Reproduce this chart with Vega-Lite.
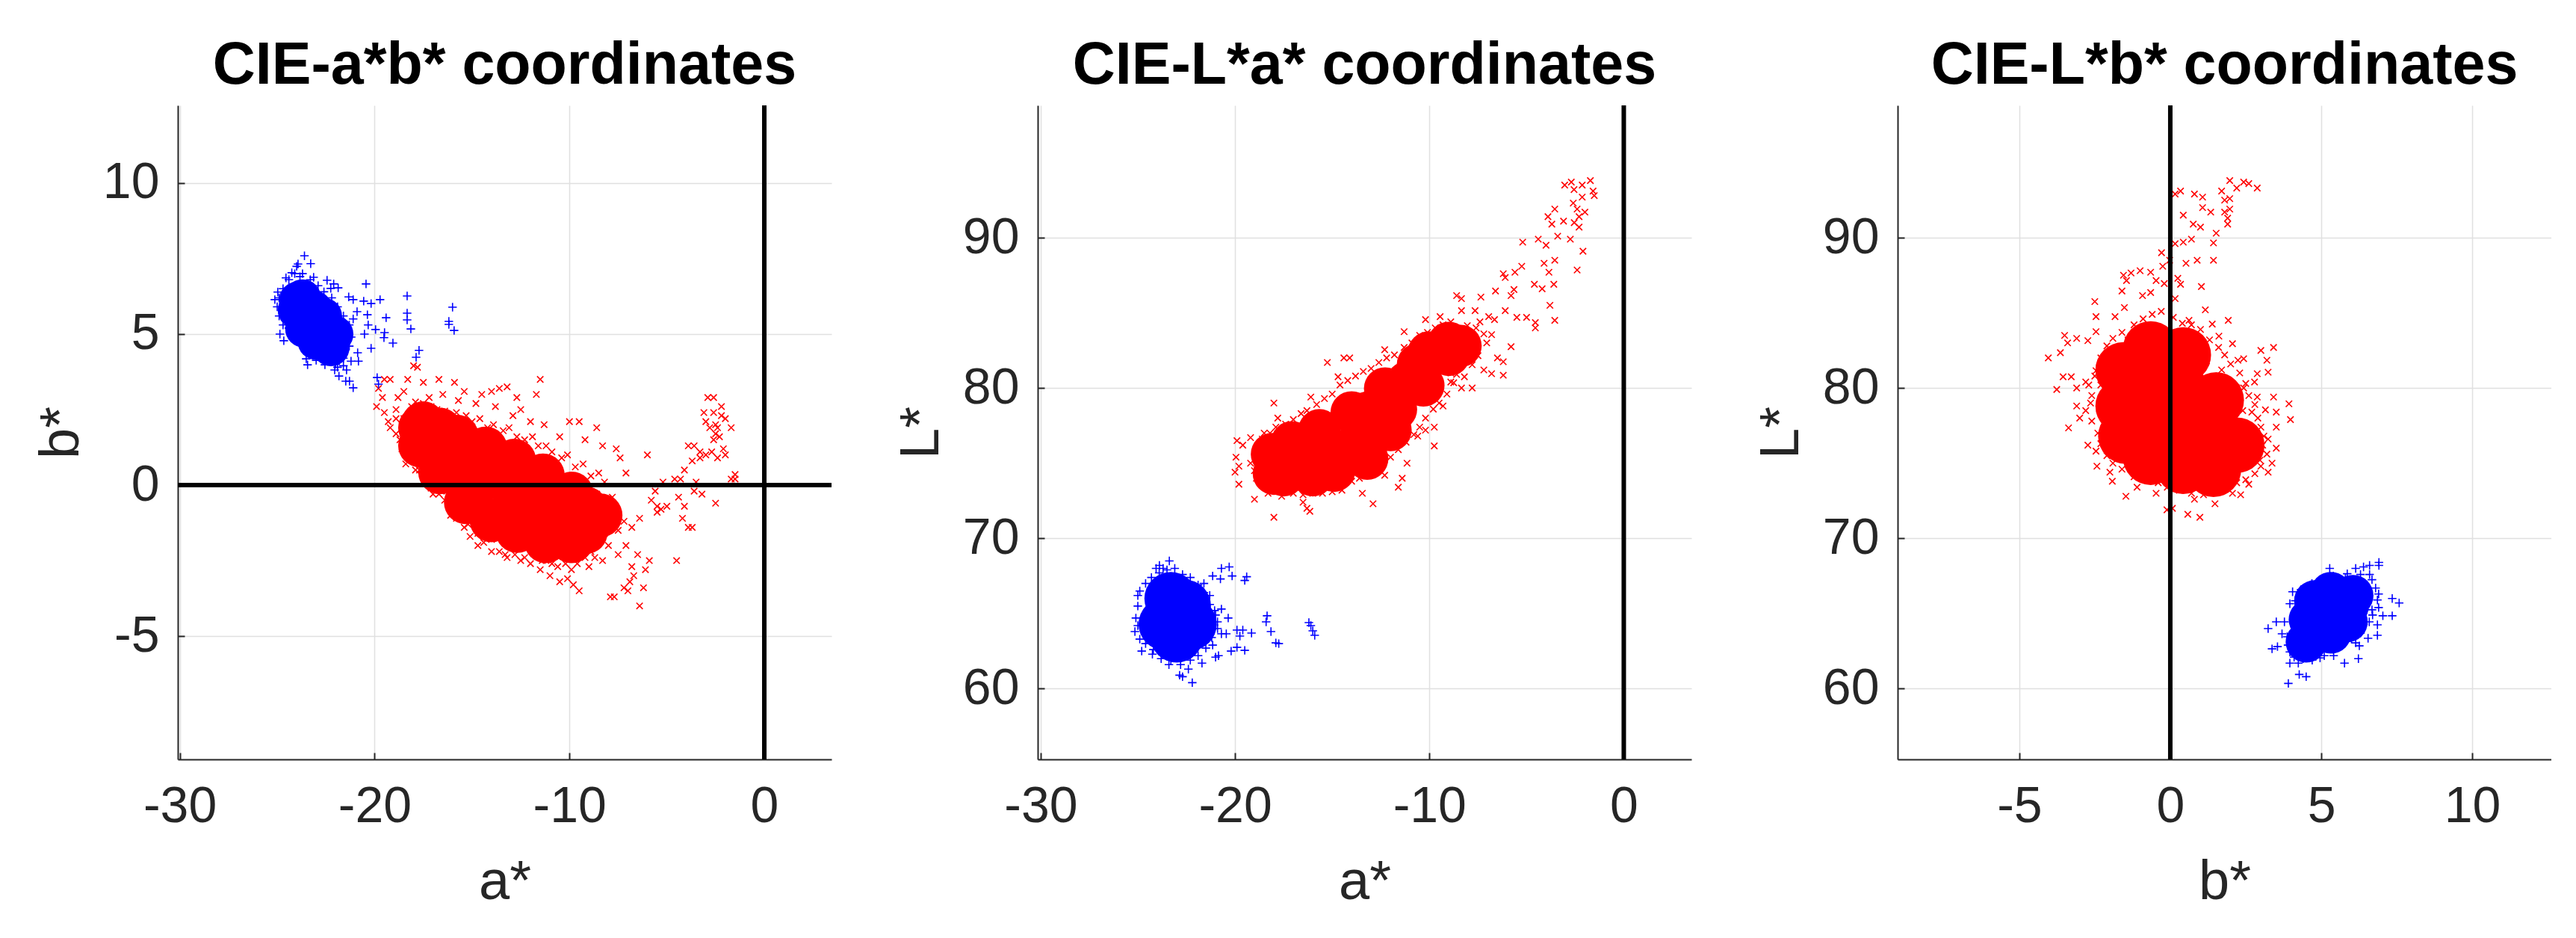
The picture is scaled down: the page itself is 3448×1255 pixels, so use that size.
{"$schema":"https://vega.github.io/schema/vega-lite/v6.json","background":"white","padding":{"left":45,"top":49,"right":0,"bottom":10},"bounds":"flush","spacing":276,
"config":{"view":{"stroke":null},"font":"Liberation Sans","axis":{"labelFont":"Liberation Sans","titleFont":"Liberation Sans","labelFontSize":68,"titleFontSize":74,"titleFontWeight":"normal","labelColor":"#262626","titleColor":"#262626","domainColor":"#262626","domainWidth":2,"tickColor":"#262626","tickWidth":2,"tickSize":-9,"gridColor":"#e0e0e0","gridWidth":1.5,"grid":true,"labelOverlap":false,"labelBound":false,"labelFlush":false,"labelExpr":"replace(datum.label,'−','-')"},"axisX":{"labelPadding":38,"titlePadding":31},"axisY":{"labelPadding":34,"titlePadding":17},"title":{"font":"Liberation Sans","fontSize":79,"fontWeight":"bold","color":"#000000","anchor":"middle","offset":9}},
"datasets":{
"p1rc":[{"x":-17.67,"y":1.9},{"x":-16.64,"y":1.84},{"x":-15.76,"y":1.6},{"x":-14.3,"y":1.21},{"x":-12.83,"y":0.81},{"x":-11.36,"y":0.32},{"x":-9.89,"y":-0.28},{"x":-9.16,"y":-0.77},{"x":-17.67,"y":1.31},{"x":-16.64,"y":0.42},{"x":-15.32,"y":-0.57},{"x":-14,"y":-1.17},{"x":-12.68,"y":-1.52},{"x":-11.21,"y":-1.86},{"x":-9.89,"y":-1.86},{"x":-9.16,"y":-1.56},{"x":-15.76,"y":0.61},{"x":-14.3,"y":0.22},{"x":-12.83,"y":-0.28},{"x":-11.36,"y":-0.77},{"x":-10.19,"y":-1.17},{"x":-16.94,"y":1.11},{"x":-8.4,"y":-1},{"x":-17.5,"y":2.05}],
"p1bc":[{"x":-23.96,"y":6.12},{"x":-24.02,"y":5.79},{"x":-23.64,"y":5.17},{"x":-23,"y":4.76},{"x":-22.24,"y":4.55},{"x":-22.04,"y":5.0},{"x":-22.62,"y":5.59},{"x":-23.13,"y":5.83},{"x":-23.26,"y":5.34},{"x":-23.7,"y":6.2}],
"p1b":[{"x":-23.6,"y":7.59},{"x":-23.93,"y":7.32},{"x":-23.28,"y":7.33},{"x":-24.0,"y":7.24},{"x":-24.25,"y":7.03},{"x":-24.55,"y":6.86},{"x":-23.83,"y":6.9},{"x":-23.13,"y":6.88},{"x":-22.44,"y":6.78},{"x":-22.1,"y":6.66},{"x":-22.25,"y":6.51},{"x":-21.87,"y":6.53},{"x":-20.44,"y":6.66},{"x":-24.97,"y":6.39},{"x":-25.12,"y":6.14},{"x":-21.33,"y":6.23},{"x":-21.1,"y":6.14},{"x":-20.56,"y":6.09},{"x":-19.72,"y":6.14},{"x":-20.18,"y":6.01},{"x":-18.33,"y":6.26},{"x":-16.0,"y":5.89},{"x":-18.33,"y":5.69},{"x":-18.33,"y":5.47},{"x":-19.41,"y":5.54},{"x":-20.37,"y":5.64},{"x":-20.9,"y":5.74},{"x":-21.1,"y":5.5},{"x":-16.19,"y":5.42},{"x":-16.19,"y":5.32},{"x":-15.92,"y":5.12},{"x":-18.14,"y":5.17},{"x":-19.95,"y":5.15},{"x":-19.49,"y":5.05},{"x":-19.52,"y":4.88},{"x":-20.52,"y":5.0},{"x":-20.33,"y":5.3},{"x":-19.06,"y":4.7},{"x":-20.18,"y":4.53},{"x":-17.72,"y":4.46},{"x":-17.87,"y":4.23},{"x":-20.83,"y":4.1},{"x":-20.87,"y":4.38},{"x":-21.44,"y":3.81},{"x":-21.83,"y":3.61},{"x":-21.48,"y":3.44},{"x":-21.29,"y":3.44},{"x":-21.1,"y":3.22},{"x":-19.87,"y":3.56},{"x":-19.8,"y":3.34},{"x":-23.44,"y":3.98},{"x":-24.66,"y":4.78},{"x":-24.86,"y":5.0},{"x":-23.0,"y":4.13},{"x":-22.55,"y":3.98},{"x":-22.05,"y":3.81},{"x":-23.51,"y":4.18},{"x":-21.21,"y":4.1},{"x":-25,"y":5.9},{"x":-24.9,"y":5.6},{"x":-24.7,"y":5.3},{"x":-24.9,"y":6.2},{"x":-24.7,"y":6.5},{"x":-24.4,"y":6.8},{"x":-24.1,"y":7},{"x":-23.7,"y":7},{"x":-23.3,"y":6.8},{"x":-22.9,"y":6.6},{"x":-22.6,"y":6.4},{"x":-22.2,"y":6.2},{"x":-21.9,"y":5.9},{"x":-21.6,"y":5.6},{"x":-21.3,"y":5.3},{"x":-21.2,"y":4.9},{"x":-21.3,"y":4.6},{"x":-21.6,"y":4.2},{"x":-22,"y":4},{"x":-22.4,"y":4.1},{"x":-22.8,"y":4.3},{"x":-23.2,"y":4.4},{"x":-23.6,"y":4.6},{"x":-24,"y":4.9},{"x":-24.4,"y":5.2},{"x":-24.6,"y":5.6},{"x":-21.6,"y":3.95},{"x":-21.9,"y":3.9},{"x":-21.7,"y":4.5}],
"p1r":[{"x":-19.8,"y":3.2},{"x":-19.5,"y":3.5},{"x":-19.2,"y":3.5},{"x":-18,"y":3.95},{"x":-17.8,"y":3.9},{"x":-18.3,"y":3.5},{"x":-17.5,"y":3.4},{"x":-16.7,"y":3.5},{"x":-15.9,"y":3.4},{"x":-15.4,"y":3.1},{"x":-14.5,"y":3},{"x":-14,"y":3.1},{"x":-13.6,"y":3.2},{"x":-13.2,"y":3.25},{"x":-11.5,"y":3.5},{"x":-11.7,"y":3},{"x":-12.7,"y":2.9},{"x":-12.5,"y":2.5},{"x":-19.6,"y":2.9},{"x":-19.9,"y":2.6},{"x":-19.5,"y":2.4},{"x":-19.3,"y":2.1},{"x":-19.2,"y":1.9},{"x":-18.9,"y":2.5},{"x":-18.8,"y":2.9},{"x":-18.5,"y":3.1},{"x":-17.2,"y":2.9},{"x":-16.5,"y":3.0},{"x":-15.7,"y":2.8},{"x":-14.8,"y":2.7},{"x":-13.8,"y":2.6},{"x":-12.9,"y":2.3},{"x":-12.0,"y":2.1},{"x":-11.3,"y":2.0},{"x":-10.5,"y":1.6},{"x":-10,"y":2.1},{"x":-9.5,"y":2.1},{"x":-8.6,"y":1.9},{"x":-9.2,"y":1.5},{"x":-8.3,"y":1.3},{"x":-7.6,"y":1.2},{"x":-7.4,"y":0.9},{"x":-7.1,"y":0.4},{"x":-6.0,"y":1.0},{"x":-18.6,"y":1.2},{"x":-18.2,"y":0.9},{"x":-17.9,"y":0.5},{"x":-17.2,"y":0.3},{"x":-17,"y":-0.3},{"x":-16.3,"y":-0.2},{"x":-16,"y":-0.6},{"x":-15.6,"y":-1},{"x":-15.2,"y":-1.3},{"x":-14.7,"y":-1.6},{"x":-14,"y":-1.8},{"x":-13.3,"y":-2.3},{"x":-12.5,"y":-2.5},{"x":-12,"y":-2.6},{"x":-11.4,"y":-2.5},{"x":-11,"y":-3},{"x":-10.5,"y":-3.2},{"x":-10.1,"y":-3.1},{"x":-9.8,"y":-3.3},{"x":-9.5,"y":-3.5},{"x":-10.5,"y":-2.3},{"x":-9.5,"y":-2.2},{"x":-9,"y":-2.7},{"x":-8.7,"y":-2.4},{"x":-8.3,"y":-2.5},{"x":-7.9,"y":-3.7},{"x":-7.7,"y":-3.7},{"x":-7.2,"y":-3.4},{"x":-7,"y":-3.5},{"x":-6.9,"y":-3.2},{"x":-6.7,"y":-3},{"x":-6.4,"y":-4},{"x":-6.2,"y":-3.4},{"x":-6.1,"y":-2.8},{"x":-6.5,"y":-2.3},{"x":-6.8,"y":-2.7},{"x":-5.9,"y":-2.5},{"x":-8.0,"y":-2},{"x":-7.5,"y":-1.5},{"x":-7.2,"y":-1.2},{"x":-6.8,"y":-1.4},{"x":-6.4,"y":-1.1},{"x":-8.1,"y":-1},{"x":-7.8,"y":-0.4},{"x":-7.5,"y":-2.3},{"x":-7.1,"y":-2},{"x":-5.8,"y":-0.5},{"x":-5.5,"y":-0.7},{"x":-5.3,"y":-0.8},{"x":-5.0,"y":-0.7},{"x":-5.6,"y":-0.2},{"x":-5.2,"y":0.1},{"x":-4.6,"y":0.2},{"x":-4.3,"y":0.2},{"x":-4.4,"y":-0.4},{"x":-4.1,"y":-0.7},{"x":-4.2,"y":-1.1},{"x":-3.9,"y":-1.4},{"x":-3.7,"y":-1.4},{"x":-4.5,"y":-2.5},{"x":-3.6,"y":-0.2},{"x":-3.5,"y":0.1},{"x":-4.1,"y":0.5},{"x":-3.7,"y":0.8},{"x":-3.3,"y":0.9},{"x":-3.9,"y":1.3},{"x":-3.6,"y":1.3},{"x":-3.3,"y":1.1},{"x":-3.0,"y":1.0},{"x":-2.7,"y":1.1},{"x":-2.6,"y":1.5},{"x":-2.4,"y":1.9},{"x":-2.5,"y":1.7},{"x":-2.3,"y":1.6},{"x":-2.1,"y":1.2},{"x":-2,"y":1.0},{"x":-2.4,"y":0.9},{"x":-1.7,"y":0.2},{"x":-1.5,"y":0.2},{"x":-1.5,"y":0.35},{"x":-2.5,"y":-0.6},{"x":-3.1,"y":2.4},{"x":-2.9,"y":2.9},{"x":-2.6,"y":2.9},{"x":-2.6,"y":2.4},{"x":-2.2,"y":2.3},{"x":-2,"y":2.2},{"x":-1.7,"y":1.9},{"x":-2.2,"y":2.6},{"x":-3,"y":2.1},{"x":-2.8,"y":1.9},{"x":-2.5,"y":2.0},{"x":-5.5,"y":-0.9},{"x":-3.2,"y":-0.3},{"x":-18.5,"y":2.2},{"x":-18.1,"y":2.6},{"x":-17.9,"y":2.75},{"x":-17.5,"y":2.7},{"x":-17.1,"y":2.6},{"x":-16.8,"y":2.5},{"x":-16.4,"y":2.45},{"x":-16.1,"y":2.2},{"x":-15.8,"y":2.4},{"x":-15.3,"y":2.3},{"x":-15,"y":2.1},{"x":-14.6,"y":2.2},{"x":-14.2,"y":1.9},{"x":-13.9,"y":2},{"x":-13.4,"y":1.8},{"x":-13.1,"y":1.9},{"x":-12.7,"y":1.6},{"x":-12.3,"y":1.5},{"x":-11.9,"y":1.6},{"x":-11.6,"y":1.3},{"x":-11.2,"y":1.3},{"x":-10.9,"y":1.1},{"x":-10.4,"y":0.9},{"x":-10.1,"y":1.0},{"x":-9.7,"y":0.6},{"x":-9.3,"y":0.7},{"x":-8.9,"y":0.3},{"x":-8.5,"y":0.4},{"x":-8.2,"y":0.1},{"x":-8.6,"y":-0.3},{"x":-8.0,"y":-0.5},{"x":-18.9,"y":1.7},{"x":-18.7,"y":1.5},{"x":-18.6,"y":2.0},{"x":-18.9,"y":2.2},{"x":-18.4,"y":0.7},{"x":-18.3,"y":1.4},{"x":-18,"y":1.1},{"x":-17.7,"y":0.5},{"x":-17.4,"y":0.1},{"x":-17.1,"y":-0.1},{"x":-16.7,"y":-0.3},{"x":-16.4,"y":-0.5},{"x":-16.1,"y":-1},{"x":-15.8,"y":-1.1},{"x":-15.4,"y":-1.4},{"x":-15.1,"y":-1.7},{"x":-14.7,"y":-2},{"x":-14.4,"y":-1.9},{"x":-14,"y":-2.2},{"x":-13.6,"y":-2.2},{"x":-13.2,"y":-2.4},{"x":-12.8,"y":-2.3},{"x":-12.3,"y":-2.4},{"x":-11.9,"y":-2.2},{"x":-11.5,"y":-2.8},{"x":-11.2,"y":-2.5},{"x":-10.9,"y":-2.6},{"x":-10.6,"y":-2.7},{"x":-10.2,"y":-2.6},{"x":-9.9,"y":-2.8},{"x":-9.6,"y":-2.6},{"x":-9.2,"y":-2.4},{"x":-8.9,"y":-2.2},{"x":-8.6,"y":-1.9},{"x":-8.2,"y":-1.6},{"x":-8.4,"y":-1.2},{"x":-8,"y":-1.4},{"x":-7.9,"y":-0.9},{"x":-7.6,"y":-0.9},{"x":-8.3,"y":-0.6}],
"p2rc":[{"x":-17.63,"y":75},{"x":-16.79,"y":74.6},{"x":-15.38,"y":74.6},{"x":-17.07,"y":76.39},{"x":-15.66,"y":77.19},{"x":-14,"y":78.38},{"x":-12.28,"y":79.97},{"x":-10.59,"y":81.56},{"x":-10.03,"y":82.36},{"x":-14.54,"y":75.79},{"x":-13.41,"y":76.99},{"x":-11.72,"y":78.58},{"x":-10.31,"y":80.17},{"x":-15.38,"y":75.99},{"x":-13.13,"y":78.38},{"x":-11.15,"y":80.37},{"x":-12,"y":77.2},{"x":-16,"y":74.2},{"x":-14.9,"y":74.5},{"x":-13.2,"y":75.3},{"x":-18,"y":74.3},{"x":-17.5,"y":74.2},{"x":-18.1,"y":75.6},{"x":-9,"y":82.2},{"x":-9,"y":83},{"x":-8.4,"y":82.8}],
"p2bc":[{"x":-23.3,"y":66},{"x":-23.6,"y":64.3},{"x":-22.6,"y":65.5},{"x":-23,"y":63.5},{"x":-22.3,"y":64.3},{"x":-23.1,"y":65}],
"p2b":[{"x":-23.38,"y":68.5},{"x":-23.89,"y":68.2},{"x":-24.06,"y":68},{"x":-23.7,"y":68},{"x":-25,"y":66.2},{"x":-25.15,"y":63.8},{"x":-25.1,"y":64.7},{"x":-24.8,"y":62.5},{"x":-24.25,"y":62.3},{"x":-22.7,"y":60.8},{"x":-22.2,"y":60.4},{"x":-22.85,"y":60.9},{"x":-23.4,"y":61.6},{"x":-21.7,"y":61.7},{"x":-21,"y":62.1},{"x":-20.85,"y":62.2},{"x":-20.2,"y":62.5},{"x":-19.9,"y":62.75},{"x":-19.5,"y":62.55},{"x":-20.45,"y":63.65},{"x":-19.9,"y":63.9},{"x":-19.6,"y":63.9},{"x":-19.15,"y":63.7},{"x":-19.75,"y":63.5},{"x":-21.15,"y":62.9},{"x":-20.35,"y":64.7},{"x":-20.7,"y":65.3},{"x":-21.05,"y":65.2},{"x":-21.3,"y":66.2},{"x":-21.6,"y":67},{"x":-21.15,"y":67.5},{"x":-20.7,"y":68},{"x":-20.3,"y":68.1},{"x":-20.75,"y":67.3},{"x":-20.15,"y":67.5},{"x":-19.5,"y":67.2},{"x":-19.4,"y":67.45},{"x":-18.4,"y":64.45},{"x":-18.35,"y":64.85},{"x":-18.15,"y":63.8},{"x":-17.9,"y":63.05},{"x":-17.75,"y":63},{"x":-16.2,"y":64.4},{"x":-16.1,"y":64.2},{"x":-15.9,"y":63.55},{"x":-16,"y":63.85},{"x":-22.4,"y":61.3},{"x":-20.9,"y":64.45},{"x":-20.7,"y":63.65},{"x":-25,"y":65.5},{"x":-24.9,"y":66.5},{"x":-24.6,"y":67},{"x":-24.3,"y":67.4},{"x":-23.9,"y":67.7},{"x":-23.5,"y":67.9},{"x":-23.1,"y":68},{"x":-22.7,"y":67.6},{"x":-22.3,"y":67.4},{"x":-21.9,"y":66.9},{"x":-21.6,"y":66.4},{"x":-21.3,"y":65.6},{"x":-21,"y":64.9},{"x":-20.9,"y":64},{"x":-21.2,"y":63.4},{"x":-21.5,"y":62.7},{"x":-21.9,"y":62.2},{"x":-22.3,"y":61.9},{"x":-22.8,"y":61.6},{"x":-23.3,"y":61.9},{"x":-23.8,"y":62},{"x":-24.2,"y":62.6},{"x":-24.6,"y":63},{"x":-24.9,"y":63.3},{"x":-25,"y":64.2}],
"p2r":[{"x":-3.04,"y":93.5},{"x":-2.7,"y":93.7},{"x":-2.56,"y":93.2},{"x":-2.14,"y":93.5},{"x":-1.72,"y":93.8},{"x":-1.58,"y":93.1},{"x":-1.52,"y":92.8},{"x":-2.14,"y":92.7},{"x":-2.6,"y":92.3},{"x":-2.4,"y":91.9},{"x":-2,"y":91.7},{"x":-2.3,"y":91.4},{"x":-3.55,"y":91.9},{"x":-3.9,"y":91.4},{"x":-3.7,"y":90.9},{"x":-3.1,"y":91.1},{"x":-2.55,"y":91},{"x":-2.3,"y":90.7},{"x":-3.4,"y":90.1},{"x":-2.75,"y":89.9},{"x":-4.4,"y":89.9},{"x":-5.2,"y":89.7},{"x":-2.1,"y":89.1},{"x":-2.4,"y":87.85},{"x":-4,"y":89.5},{"x":-4.1,"y":88.3},{"x":-3.55,"y":88.5},{"x":-3.85,"y":87.7},{"x":-3.6,"y":86.9},{"x":-4.2,"y":86.6},{"x":-4.6,"y":86.9},{"x":-3.8,"y":85.5},{"x":-3.55,"y":84.5},{"x":-4.55,"y":84.35},{"x":-4.55,"y":84},{"x":-5,"y":84.7},{"x":-5.5,"y":84.7},{"x":-6.1,"y":85.15},{"x":-5.8,"y":86.15},{"x":-6.2,"y":87.6},{"x":-5.6,"y":87.7},{"x":-5.25,"y":88.1},{"x":-6.1,"y":87.35},{"x":-5.65,"y":86.55},{"x":-6.6,"y":86.45},{"x":-5.8,"y":82.75},{"x":-6.2,"y":81.75},{"x":-6.2,"y":80.85},{"x":-6.8,"y":80.95},{"x":-6.5,"y":82},{"x":-7.35,"y":86.05},{"x":-8.6,"y":86.15},{"x":-8.35,"y":85.95},{"x":-9.45,"y":84.75},{"x":-10.2,"y":84.55},{"x":-11.3,"y":83.75},{"x":-12.3,"y":82.55},{"x":-14.4,"y":82},{"x":-14.1,"y":82},{"x":-15.25,"y":81.7},{"x":-14.7,"y":80.75},{"x":-16.1,"y":79.4},{"x":-18,"y":79},{"x":-17.8,"y":78},{"x":-18.5,"y":77},{"x":-19.2,"y":76.7},{"x":-19.9,"y":76.5},{"x":-19.6,"y":76.2},{"x":-19.95,"y":75.4},{"x":-19.8,"y":74.8},{"x":-20,"y":74.4},{"x":-19.8,"y":73.6},{"x":-19,"y":72.6},{"x":-18,"y":71.4},{"x":-16.3,"y":72},{"x":-16.15,"y":71.8},{"x":-16.5,"y":72.4},{"x":-17.6,"y":72.8},{"x":-18.3,"y":73},{"x":-12.9,"y":72.3},{"x":-13.45,"y":73},{"x":-14.5,"y":73.2},{"x":-11.6,"y":73.4},{"x":-11.4,"y":74},{"x":-12.3,"y":74.2},{"x":-9.75,"y":76.15},{"x":-9.75,"y":77.4},{"x":-10.2,"y":77.2},{"x":-11.15,"y":75},{"x":-10.6,"y":76.8},{"x":-9.3,"y":78.8},{"x":-8.35,"y":80},{"x":-7.8,"y":80},{"x":-7.2,"y":81.2},{"x":-7.8,"y":81.55},{"x":-6.8,"y":83.55},{"x":-6.65,"y":84.55},{"x":-6.95,"y":84.75},{"x":-7.65,"y":85.15},{"x":-8.35,"y":85.15},{"x":-7.05,"y":83},{"x":-7.5,"y":82.15},{"x":-8.2,"y":80.75},{"x":-8.75,"y":80.35},{"x":-8.6,"y":83.55},{"x":-8.05,"y":84.15},{"x":-8.2,"y":83.7},{"x":-7.6,"y":84},{"x":-7.9,"y":83},{"x":-7.2,"y":83.6},{"x":-7.4,"y":84.4},{"x":-8.6,"y":83},{"x":-8,"y":82.4},{"x":-8.8,"y":82.2},{"x":-18.9,"y":76},{"x":-18.6,"y":76.6},{"x":-18.2,"y":77},{"x":-17.9,"y":77.4},{"x":-17.4,"y":77.6},{"x":-17,"y":77.9},{"x":-16.6,"y":78.3},{"x":-16.3,"y":78.5},{"x":-15.8,"y":78.9},{"x":-15.4,"y":79.3},{"x":-15,"y":79.6},{"x":-14.6,"y":80.2},{"x":-14.2,"y":80.5},{"x":-13.8,"y":80.8},{"x":-13.4,"y":81.1},{"x":-13,"y":81.3},{"x":-12.6,"y":81.7},{"x":-12.2,"y":82},{"x":-11.8,"y":82.2},{"x":-11.3,"y":82.7},{"x":-10.9,"y":83},{"x":-10.5,"y":83.5},{"x":-10.1,"y":83.7},{"x":-9.7,"y":84},{"x":-9.3,"y":84.2},{"x":-8.9,"y":84.4},{"x":-18.9,"y":75.3},{"x":-19.2,"y":75},{"x":-19,"y":74.5},{"x":-18.9,"y":74},{"x":-18.5,"y":73.6},{"x":-18,"y":73.3},{"x":-17.5,"y":73.2},{"x":-17,"y":73},{"x":-16.5,"y":72.9},{"x":-16,"y":73},{"x":-15.5,"y":73},{"x":-15,"y":73.1},{"x":-14.4,"y":73.7},{"x":-14,"y":73.8},{"x":-13.6,"y":74},{"x":-13.2,"y":74.4},{"x":-12.8,"y":74.8},{"x":-12.4,"y":75},{"x":-12,"y":75.4},{"x":-11.6,"y":75.9},{"x":-11.2,"y":76.4},{"x":-10.8,"y":76.9},{"x":-10.5,"y":77.4},{"x":-10.2,"y":78},{"x":-9.8,"y":78.6},{"x":-9.5,"y":79},{"x":-9.1,"y":79.6},{"x":-8.9,"y":80.4},{"x":-8.6,"y":80.9},{"x":-8.9,"y":81},{"x":-8.4,"y":81.7},{"x":-8.9,"y":83},{"x":-9.1,"y":82.6},{"x":-9.2,"y":83.6},{"x":-9.6,"y":83.4},{"x":-8.3,"y":82.7},{"x":-7.6,"y":83.2}],
"p3rc":[{"x":-1.56,"y":81.2},{"x":-1.56,"y":78.8},{"x":-1.47,"y":76.8},{"x":-0.65,"y":82.6},{"x":-0.65,"y":80},{"x":-0.65,"y":77.6},{"x":-0.65,"y":75.4},{"x":0.43,"y":82.2},{"x":0.43,"y":79.6},{"x":0.43,"y":77.2},{"x":0.43,"y":74.8},{"x":1.52,"y":79.2},{"x":1.52,"y":76.8},{"x":1.43,"y":74.6},{"x":2.2,"y":76.2}],
"p3bc":[{"x":4.5,"y":63.1},{"x":4.96,"y":64.1},{"x":5.5,"y":65.25},{"x":6.05,"y":66.2},{"x":5.32,"y":63.7},{"x":5.86,"y":64.45},{"x":4.78,"y":65.85},{"x":5.32,"y":66.4},{"x":4.6,"y":64.6},{"x":5,"y":65.1},{"x":5.9,"y":65.5}],
"p3b":[{"x":6.91,"y":68.4},{"x":6.91,"y":68.2},{"x":6.6,"y":68.2},{"x":6.4,"y":68.1},{"x":6.14,"y":68},{"x":5.28,"y":68},{"x":7.35,"y":66},{"x":7.58,"y":65.7},{"x":6.86,"y":65.9},{"x":7.04,"y":64.85},{"x":7.35,"y":64.85},{"x":6.86,"y":64.25},{"x":6.86,"y":63.55},{"x":6.55,"y":63.35},{"x":6.26,"y":62.85},{"x":6.23,"y":62},{"x":5.77,"y":61.7},{"x":5.41,"y":62.2},{"x":4.5,"y":60.8},{"x":4.27,"y":60.95},{"x":3.91,"y":60.35},{"x":3.96,"y":61.7},{"x":4.24,"y":61.7},{"x":3.37,"y":62.65},{"x":3.55,"y":62.8},{"x":3.24,"y":64},{"x":3.51,"y":64.45},{"x":3.78,"y":64.45},{"x":3.7,"y":63.65},{"x":3.87,"y":63.45},{"x":3.96,"y":65.65},{"x":4.05,"y":66.45},{"x":4.33,"y":66.6},{"x":4.14,"y":65.85},{"x":4.69,"y":67},{"x":5.86,"y":67.65},{"x":6.68,"y":67.25},{"x":6.68,"y":65.25},{"x":6.59,"y":64.45},{"x":3.96,"y":62.45},{"x":4.24,"y":62.45},{"x":6.14,"y":63.05},{"x":4.96,"y":62.05},{"x":4.1,"y":65},{"x":4.2,"y":64.2},{"x":4.1,"y":63.5},{"x":3.9,"y":62.9},{"x":4.4,"y":66.2},{"x":4.7,"y":66.7},{"x":5,"y":67.2},{"x":5.4,"y":67.5},{"x":5.8,"y":67.4},{"x":6.3,"y":67.6},{"x":6.6,"y":67.6},{"x":6.8,"y":66.7},{"x":6.9,"y":66.3},{"x":6.9,"y":65.4},{"x":6.7,"y":64.9},{"x":6.4,"y":64.3},{"x":6.3,"y":63.7},{"x":6,"y":63.3},{"x":5.7,"y":63},{"x":5.4,"y":62.6},{"x":5.1,"y":62.2},{"x":4.7,"y":61.9},{"x":4.4,"y":62},{"x":4.1,"y":62.1}],
"p3r":[{"x":2.88,"y":93.3},{"x":2.43,"y":93.7},{"x":1.97,"y":93.8},{"x":2.6,"y":93.6},{"x":2.2,"y":93.3},{"x":1.7,"y":93.1},{"x":1.97,"y":92.6},{"x":1.8,"y":92.5},{"x":1.8,"y":91.7},{"x":1.97,"y":91.9},{"x":1.9,"y":91.3},{"x":1.9,"y":90.9},{"x":1.34,"y":91.7},{"x":1.07,"y":92},{"x":0.8,"y":92.9},{"x":1.07,"y":92.7},{"x":0.34,"y":93.1},{"x":0.16,"y":92.9},{"x":0.43,"y":91.5},{"x":0.76,"y":90.9},{"x":1,"y":90.7},{"x":1.52,"y":90.3},{"x":1.43,"y":89.65},{"x":1.43,"y":88.5},{"x":0.89,"y":88.5},{"x":0.7,"y":89.9},{"x":0.43,"y":89.7},{"x":0.16,"y":89.6},{"x":-0.29,"y":89},{"x":-0.02,"y":88.5},{"x":0.52,"y":88.3},{"x":0.25,"y":87.3},{"x":0.34,"y":86.9},{"x":1.03,"y":86.75},{"x":0.16,"y":85.95},{"x":-0.25,"y":88.1},{"x":-0.65,"y":87.7},{"x":-1,"y":87.8},{"x":-1.3,"y":87.65},{"x":-1.55,"y":87.5},{"x":-1.45,"y":87.15},{"x":-1.6,"y":86.45},{"x":-0.92,"y":86.15},{"x":-0.65,"y":86.35},{"x":-0.47,"y":87.15},{"x":-0.2,"y":86.95},{"x":-2.5,"y":85.75},{"x":-2.46,"y":84.75},{"x":-1.52,"y":85.35},{"x":-1.83,"y":84.75},{"x":1.16,"y":85.2},{"x":1.39,"y":84.25},{"x":1.92,"y":84.5},{"x":0.62,"y":84.5},{"x":-4.04,"y":82},{"x":-3.5,"y":83.5},{"x":-3.4,"y":83},{"x":-3.1,"y":83.3},{"x":-2.73,"y":83.15},{"x":-2.46,"y":83.75},{"x":-3.64,"y":82.35},{"x":-3.55,"y":80.75},{"x":-3.28,"y":80.75},{"x":-3.76,"y":79.9},{"x":-3.1,"y":80},{"x":-3.1,"y":78.8},{"x":-3,"y":78},{"x":-3.37,"y":77.35},{"x":-2.73,"y":76.2},{"x":-2.46,"y":75.8},{"x":-2.43,"y":74.8},{"x":-2,"y":74.4},{"x":-1.92,"y":73.8},{"x":-1.47,"y":72.8},{"x":-1.1,"y":73.4},{"x":-2.8,"y":80.4},{"x":-2.64,"y":79},{"x":-2.46,"y":81.15},{"x":3.42,"y":82.7},{"x":3,"y":82.5},{"x":3.2,"y":81.85},{"x":3.24,"y":81.05},{"x":2.88,"y":80.95},{"x":2.43,"y":81.95},{"x":2.24,"y":81.85},{"x":2.06,"y":82.95},{"x":1.61,"y":83.45},{"x":3.42,"y":79.4},{"x":3.93,"y":78.95},{"x":3.98,"y":77.9},{"x":3.51,"y":78.4},{"x":3.51,"y":77.4},{"x":3.15,"y":78.55},{"x":2.88,"y":79.4},{"x":2.79,"y":80.4},{"x":3.24,"y":76.6},{"x":3.51,"y":76},{"x":3.37,"y":75},{"x":3.24,"y":74.4},{"x":3.06,"y":76.2},{"x":2.97,"y":75.2},{"x":2.6,"y":73.6},{"x":2.33,"y":72.9},{"x":2.06,"y":73},{"x":1.48,"y":72.3},{"x":0.98,"y":71.4},{"x":0.58,"y":71.6},{"x":-0.11,"y":71.9},{"x":0.07,"y":72},{"x":0.8,"y":72.6},{"x":-0.47,"y":73},{"x":2.43,"y":80},{"x":2.06,"y":78.8},{"x":2.7,"y":78.4},{"x":-2.3,"y":82},{"x":-2.1,"y":82.8},{"x":-1.9,"y":83.3},{"x":-1.6,"y":83.7},{"x":-1.2,"y":84.2},{"x":-0.9,"y":84.6},{"x":-0.6,"y":84.9},{"x":-0.3,"y":85.1},{"x":0.1,"y":84.7},{"x":0.4,"y":84.3},{"x":0.7,"y":84.2},{"x":1,"y":83.9},{"x":1.3,"y":83.2},{"x":1.6,"y":82.7},{"x":1.8,"y":82.2},{"x":2,"y":81.6},{"x":2.3,"y":81},{"x":2.5,"y":80.3},{"x":2.6,"y":79.5},{"x":2.8,"y":78.9},{"x":2.9,"y":78},{"x":3,"y":77.4},{"x":3.1,"y":76.8},{"x":3.2,"y":75.6},{"x":3,"y":74.8},{"x":2.8,"y":74.3},{"x":2.5,"y":73.9},{"x":2.2,"y":73.7},{"x":1.9,"y":73.3},{"x":1.5,"y":73.1},{"x":1.1,"y":72.9},{"x":0.7,"y":73},{"x":0.3,"y":73.2},{"x":-0.1,"y":73.4},{"x":-0.4,"y":73.7},{"x":-0.8,"y":74.1},{"x":-1.2,"y":74.1},{"x":-1.6,"y":74.6},{"x":-1.9,"y":75},{"x":-2.1,"y":75.5},{"x":-2.3,"y":76.3},{"x":-2.4,"y":77},{"x":-2.6,"y":77.8},{"x":-2.8,"y":78.5},{"x":-2.6,"y":79.5},{"x":-2.7,"y":80.2},{"x":-2.5,"y":80.8},{"x":-2.3,"y":81.5},{"x":1.2,"y":81.8},{"x":1.7,"y":81.2},{"x":2.2,"y":80},{"x":2.4,"y":78.5},{"x":2.5,"y":77.5},{"x":2.6,"y":76.6},{"x":2.6,"y":75},{"x":-2.2,"y":79},{"x":-2.1,"y":76.8},{"x":-2.3,"y":80.2},{"x":-1.8,"y":82.3},{"x":-1.4,"y":83.2}]
},
"hconcat":[
{"width":875,"height":875,"title":"CIE-a*b* coordinates","layer":[
{"encoding":{"x":{"field":"x","type":"quantitative","title":"a*","scale":{"domain":[-30.1,3.45],"nice":false,"zero":false},"axis":{"values":[-30,-20,-10,0]}},"y":{"field":"y","type":"quantitative","title":"b*","scale":{"domain":[-9.08,12.57],"nice":false,"zero":false},"axis":{"values":[-5,0,5,10]}}},
"layer":[
{"data":{"name":"p1rc"},"mark":{"type":"point","shape":"circle","filled":true,"color":"#ff0000","opacity":1,"size":3421}},
{"data":{"name":"p1r"},"mark":{"type":"point","shape":"M-1,-1L1,1M-1,1L1,-1","filled":false,"color":"#ff0000","opacity":1,"strokeWidth":1.6,"size":72}},
{"data":{"name":"p1bc"},"mark":{"type":"point","shape":"circle","filled":true,"color":"#0000ff","opacity":1,"size":2463}},
{"data":{"name":"p1b"},"mark":{"type":"point","shape":"M-1,0L1,0M0,-1L0,1","filled":false,"color":"#0000ff","opacity":1,"strokeWidth":1.6,"size":130}}]},
{"data":{"values":[{"x":0}]},"mark":{"type":"rule","color":"#000000","strokeWidth":6},"encoding":{"x":{"field":"x","type":"quantitative","title":"a*"}}},
{"data":{"values":[{"y":0}]},"mark":{"type":"rule","color":"#000000","strokeWidth":6},"encoding":{"y":{"field":"y","type":"quantitative","title":"b*"}}}
]},
{"width":875,"height":875,"title":"CIE-L*a* coordinates","layer":[
{"encoding":{"x":{"field":"x","type":"quantitative","title":"a*","scale":{"domain":[-30.15,3.48],"nice":false,"zero":false},"axis":{"values":[-30,-20,-10,0]}},"y":{"field":"y","type":"quantitative","title":"L*","scale":{"domain":[55.3,98.8],"nice":false,"zero":false},"axis":{"values":[60,70,80,90]}}},
"layer":[
{"data":{"name":"p2rc"},"mark":{"type":"point","shape":"circle","filled":true,"color":"#ff0000","opacity":1,"size":3217}},
{"data":{"name":"p2r"},"mark":{"type":"point","shape":"M-1,-1L1,1M-1,1L1,-1","filled":false,"color":"#ff0000","opacity":1,"strokeWidth":1.6,"size":72}},
{"data":{"name":"p2bc"},"mark":{"type":"point","shape":"circle","filled":true,"color":"#0000ff","opacity":1,"size":5027}},
{"data":{"name":"p2b"},"mark":{"type":"point","shape":"M-1,0L1,0M0,-1L0,1","filled":false,"color":"#0000ff","opacity":1,"strokeWidth":1.6,"size":130}}]},
{"data":{"values":[{"x":0}]},"mark":{"type":"rule","color":"#000000","strokeWidth":6},"encoding":{"x":{"field":"x","type":"quantitative","title":"a*"}}}
]},
{"width":875,"height":875,"title":"CIE-L*b* coordinates","layer":[
{"encoding":{"x":{"field":"x","type":"quantitative","title":"b*","scale":{"domain":[-9.03,12.62],"nice":false,"zero":false},"axis":{"values":[-5,0,5,10]}},"y":{"field":"y","type":"quantitative","title":"L*","scale":{"domain":[55.3,98.8],"nice":false,"zero":false},"axis":{"values":[60,70,80,90]}}},
"layer":[
{"data":{"name":"p3rc"},"mark":{"type":"point","shape":"circle","filled":true,"color":"#ff0000","opacity":1,"size":5542}},
{"data":{"name":"p3r"},"mark":{"type":"point","shape":"M-1,-1L1,1M-1,1L1,-1","filled":false,"color":"#ff0000","opacity":1,"strokeWidth":1.6,"size":72}},
{"data":{"name":"p3bc"},"mark":{"type":"point","shape":"circle","filled":true,"color":"#0000ff","opacity":1,"size":3019}},
{"data":{"name":"p3b"},"mark":{"type":"point","shape":"M-1,0L1,0M0,-1L0,1","filled":false,"color":"#0000ff","opacity":1,"strokeWidth":1.6,"size":130}}]},
{"data":{"values":[{"x":0}]},"mark":{"type":"rule","color":"#000000","strokeWidth":6},"encoding":{"x":{"field":"x","type":"quantitative","title":"b*"}}}
]}
]}
